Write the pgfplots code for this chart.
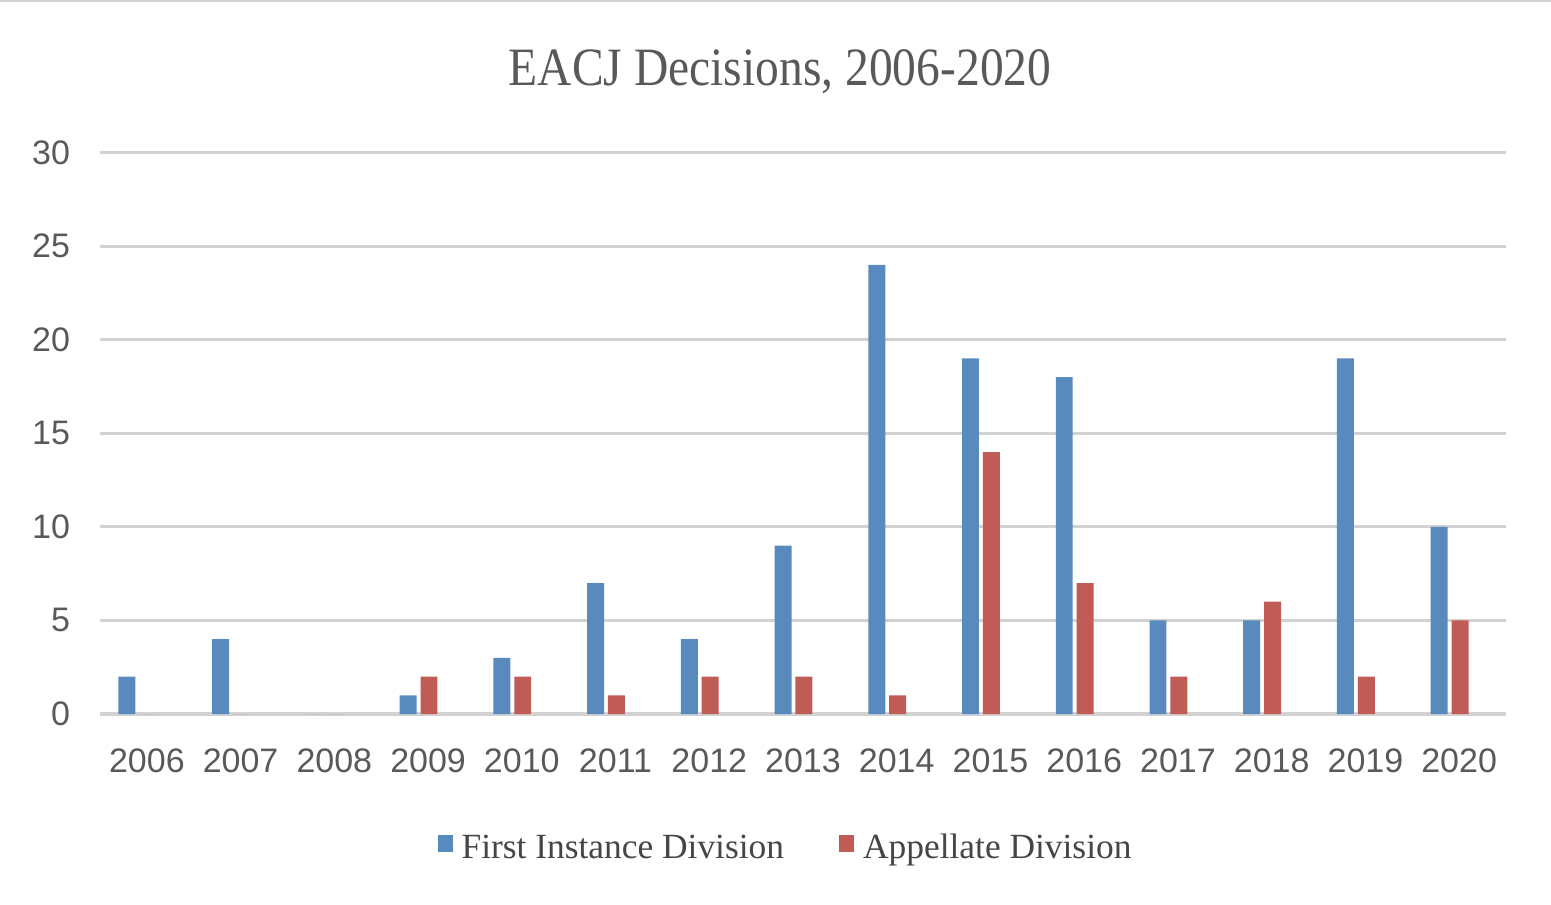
\documentclass[border=0pt]{standalone}
\usepackage{fontspec}
\setmainfont{Liberation Serif}
\newfontfamily\titlefont[FakeStretch=0.88]{Liberation Serif}
\newfontfamily\tickfont{Liberation Sans}
\usepackage{pgfplots}
\pgfplotsset{compat=1.18}
\definecolor{fidblue}{RGB}{88,138,190}
\definecolor{adred}{RGB}{193,91,85}
\definecolor{gridgray}{RGB}{210,210,210}
\definecolor{txtgray}{RGB}{89,89,89}
\definecolor{leggray}{RGB}{70,70,70}
\begin{document}
\begin{tikzpicture}
\useasboundingbox (-50pt,-95pt) rectangle (725.5pt,357pt);
\fill[gridgray] (-50pt,356pt) rectangle (725.5pt,357pt);
\begin{axis}[
  at={(0pt,0pt)}, anchor=south west,
  scale only axis,
  width=703pt, height=280.7pt,
  xmin=-0.5, xmax=14.5,
  ymin=0, ymax=30,
  xtick={0,...,14},
  xticklabels={2006,2007,2008,2009,2010,2011,2012,2013,2014,2015,2016,2017,2018,2019,2020},
  ytick={0,5,10,15,20,25,30},
  ymajorgrids,
  grid style={gridgray, line width=1.6pt},
  axis line style={draw=none},
  major tick length=0pt,
  /pgf/number format/assume math mode=true,
  ticklabel style={font=\tickfont\fontsize{17}{20}\selectfont, text=txtgray},
  xticklabel style={yshift=-14pt},
  yticklabel style={xshift=-11.5pt},
  title={\titlefont\fontsize{27}{32}\selectfont EACJ Decisions, 2006-2020},
  title style={at={(axis description cs:0.4837,1.099)}, anchor=base, text=txtgray},
  legend style={at={(axis description cs:0.4883,-0.239)}, anchor=center, draw=none,
    font=\fontsize{17.7}{21}\selectfont, text=leggray,
    /tikz/every even column/.append style={column sep=25.5pt}},
  legend columns=2,
  legend image code/.code={\fill[#1] (0pt,-2pt) rectangle (7.5pt,6.5pt);\path (10pt,0pt);},
]
\addplot[ybar, bar width=0.181, bar shift=-0.213, fill=fidblue, draw=none]
  coordinates {(0,2) (1,4) (2,0) (3,1) (4,3) (5,7) (6,4) (7,9) (8,24) (9,19) (10,18) (11,5) (12,5) (13,19) (14,10)};
\addlegendentry{First Instance Division}
\addplot[ybar, bar width=0.181, bar shift=0.01, fill=adred, draw=none]
  coordinates {(0,0) (1,0) (2,0) (3,2) (4,2) (5,1) (6,2) (7,2) (8,1) (9,14) (10,7) (11,2) (12,6) (13,2) (14,5)};
\addlegendentry{Appellate Division}
\end{axis}
\end{tikzpicture}
\end{document}
